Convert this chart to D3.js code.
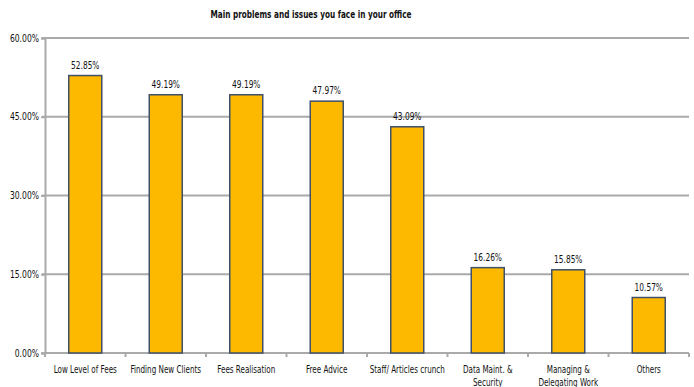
<!DOCTYPE html>
<html><head><meta charset="utf-8">
<script src="https://cdn.jsdelivr.net/npm/d3@7"></script>
<style>body{margin:0;background:#fff}svg{display:block}text{font-family:"DejaVu Sans Condensed","DejaVu Sans",sans-serif;fill:#111}</style>
</head><body><svg id="c" width="694" height="387"></svg>
<script>
const categories = ["Low Level of Fees","Finding New Clients","Fees Realisation","Free Advice","Staff/ Articles crunch","Data Maint. & Security","Managing & Delegating Work","Others"];
const categoryLines = [["Low Level of Fees"],["Finding New Clients"],["Fees Realisation"],["Free Advice"],["Staff/ Articles crunch"],["Data Maint. &","Security"],["Managing &","Delegating Work"],["Others"]];
const values = [52.85,49.19,49.19,47.97,43.09,16.26,15.85,10.57];
const yTicks = [0,15,30,45,60];
const title = "Main problems and issues you face in your office";

(function(){
const svg = d3.select("#c");
const pL = 45, pR = 689, pT = 38, pB = 353;
const SX = 0.8;
const x = d3.scaleBand().domain(categories).range([pL, pR]).paddingInner(0.59).paddingOuter(0.295);
const xb = d3.scaleBand().domain(categories).range([pL, pR]);
const y = d3.scaleLinear().domain([0, 60]).range([pB, pT]);

function label(g, tx, ty, txt, size, anchor, bold, sx) {
  const t = g.append("g").attr("transform", `translate(${tx},${ty}) scale(${sx || SX},1)`)
    .append("text").attr("text-anchor", anchor).style("font-size", size + "px").text(txt);
  if (bold) t.style("font-weight", "bold");
  return t;
}

label(svg, 311, 18, title, 11, "middle", true, 0.74);

svg.append("g").selectAll("line").data(yTicks).join("line")
  .attr("x1", pL - 3).attr("x2", pR).attr("y1", d => y(d)).attr("y2", d => y(d))
  .attr("stroke", "#aaaaaa").attr("stroke-width", 2);

const ya = svg.append("g").attr("transform", `translate(${pL},0)`)
  .call(d3.axisLeft(y).tickValues(yTicks).tickFormat("").tickSize(4));
ya.select(".domain").attr("stroke", "#aaaaaa").attr("stroke-width", 2);
ya.selectAll(".tick line").attr("stroke", "#aaaaaa").attr("stroke-width", 2);
const yl = svg.append("g");
yTicks.forEach(t => label(yl, 39, y(t) + 3.5, t.toFixed(2) + "%", 10, "end", false, 0.85));

const bounds = categories.map(c => xb(c)).concat([pR]);
svg.append("g").selectAll("line").data(bounds).join("line")
  .attr("x1", d => d).attr("x2", d => d).attr("y1", pB).attr("y2", pB + 4)
  .attr("stroke", "#aaaaaa").attr("stroke-width", 2);

svg.append("g").selectAll("rect").data(values).join("rect")
  .attr("x", (d, i) => x(categories[i])).attr("width", x.bandwidth())
  .attr("y", d => y(d)).attr("height", d => pB - y(d))
  .attr("fill", "#fcb900").attr("stroke", "#3f5068").attr("stroke-width", 1.5);

const vl = svg.append("g");
values.forEach((v, i) => label(vl, xb(categories[i]) + xb.bandwidth() / 2, y(v) - 7, v.toFixed(2) + "%", 10, "middle", false, 0.83));

const cl = svg.append("g");
categoryLines.forEach((lines, i) => lines.forEach((ln, j) =>
  label(cl, xb(categories[i]) + xb.bandwidth() / 2, pB + 20 + j * 13, ln, 10, "middle", false, 0.8)));
})();
</script></body></html>
